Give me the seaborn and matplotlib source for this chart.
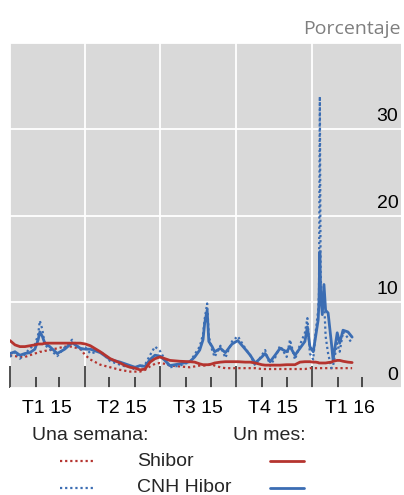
import pandas as pd
import numpy as np
import matplotlib
matplotlib.use("Agg")
import matplotlib.pyplot as plt
import matplotlib.dates as mdates
import matplotlib.transforms as mtransforms
from matplotlib.lines import Line2D
import seaborn as sns

#---------- data ----------
dates = [
    "2015-01-01", "2015-01-07", "2015-01-13", "2015-01-19", "2015-01-25", "2015-01-31",
    "2015-02-04", "2015-02-06", "2015-02-09", "2015-02-12", "2015-02-18", "2015-02-27",
    "2015-03-08", "2015-03-17", "2015-03-27", "2015-04-02", "2015-04-08", "2015-04-20",
    "2015-05-02", "2015-05-14", "2015-05-20", "2015-05-26", "2015-06-01", "2015-06-07",
    "2015-06-13", "2015-06-19", "2015-06-25", "2015-07-01", "2015-07-07", "2015-07-13",
    "2015-07-25", "2015-08-06", "2015-08-12", "2015-08-18", "2015-08-22", "2015-08-24",
    "2015-08-27", "2015-08-29", "2015-09-02", "2015-09-05", "2015-09-12", "2015-09-18",
    "2015-09-26", "2015-10-03", "2015-10-12", "2015-10-18", "2015-10-24", "2015-11-01",
    "2015-11-05", "2015-11-11", "2015-11-17", "2015-11-23", "2015-12-01", "2015-12-05",
    "2015-12-11", "2015-12-17", "2015-12-23", "2015-12-26", "2015-12-29", "2016-01-02",
    "2016-01-05", "2016-01-08", "2016-01-09", "2016-01-10", "2016-01-11", "2016-01-13",
    "2016-01-15", "2016-01-17", "2016-01-20", "2016-01-24", "2016-01-26", "2016-01-31",
    "2016-02-03", "2016-02-07", "2016-02-13", "2016-02-18",
]
shibor_1w = [
    3.8, 3.7, 3.6, 3.6, 3.8, 4.0,
    4.1, 4.2, 4.2, 4.3, 4.4, 4.6,
    4.8, 4.8, 4.5, 3.8, 3.3, 2.7,
    2.4, 2.1, 2.0, 1.9, 1.9, 1.9,
    2.1, 2.5, 2.8, 2.9, 2.8, 2.6,
    2.5, 2.4, 2.5, 2.6, 2.6, 2.6,
    2.7, 2.7, 2.7, 2.6, 2.4, 2.3,
    2.3, 2.3, 2.3, 2.3, 2.3, 2.2,
    2.2, 2.2, 2.2, 2.2, 2.2, 2.2,
    2.2, 2.2, 2.2, 2.25, 2.3, 2.3,
    2.3, 2.3, 2.3, 2.3, 2.3, 2.3,
    2.3, 2.3, 2.3, 2.3, 2.3, 2.3,
    2.3, 2.3, 2.3, 2.3,
]
shibor_1m = [
    5.5, 5.0, 4.8, 4.8, 4.9, 5.0,
    5.1, 5.1, 5.1, 5.2, 5.2, 5.2,
    5.2, 5.2, 5.2, 5.1, 4.9, 4.2,
    3.4, 2.9, 2.6, 2.4, 2.3, 2.1,
    2.2, 3.0, 3.4, 3.6, 3.4, 3.2,
    3.1, 3.05, 3.0, 2.8, 2.7, 2.7,
    2.7, 2.7, 2.8, 2.9, 3.0, 3.05,
    3.05, 3.05, 3.0, 3.0, 2.9, 2.7,
    2.65, 2.65, 2.65, 2.65, 2.7, 2.7,
    2.7, 3.0, 3.05, 3.05, 3.05, 3.0,
    3.0, 2.95, 2.9, 2.9, 2.9, 2.9,
    2.9, 2.9, 2.95, 3.0, 3.1, 3.2,
    3.2, 3.1, 3.0, 2.95,
]
hibor_1w = [
    3.6, 4.2, 3.4, 3.9, 4.6, 5.0,
    6.2, 7.8, 6.8, 5.0, 4.5, 3.7,
    4.7, 5.6, 4.4, 4.7, 4.0, 4.3,
    3.1, 2.7, 2.5, 2.5, 2.1, 2.4,
    2.7, 3.8, 4.8, 4.3, 3.3, 2.4,
    2.6, 3.0, 3.9, 4.8, 6.2, 8.0,
    9.8, 6.0, 4.4, 3.6, 4.9, 3.5,
    5.4, 6.0, 4.6, 3.8, 2.6, 3.8,
    4.4, 2.6, 3.5, 4.9, 3.6, 5.6,
    3.3, 5.0, 6.4, 8.1, 4.0, 3.3,
    6.5, 9.0, 11.0, 33.8, 13.0, 9.0,
    10.5, 6.0, 4.0, 2.3, 2.6, 5.2,
    4.2, 6.5, 5.8, 5.2,
]
hibor_1m = [
    4.0, 4.2, 3.8, 4.0, 4.1, 4.5,
    5.6, 6.5, 6.0, 5.2, 4.8, 4.0,
    4.5, 5.25, 4.6, 4.5, 4.5, 4.1,
    3.3, 3.0, 2.8, 2.6, 2.4, 2.6,
    2.5, 3.3, 3.8, 3.7, 3.2, 2.6,
    2.8, 3.05, 3.6, 4.4, 5.6, 7.5,
    9.0, 5.4, 4.8, 4.2, 4.6, 4.1,
    5.1, 5.5, 4.5, 3.8, 2.9, 3.6,
    4.0, 3.05, 3.8, 4.6, 4.2, 4.8,
    3.8, 4.6, 5.4, 7.1, 4.8, 4.2,
    6.0, 7.9, 10.0, 15.8, 11.0, 8.5,
    12.0, 9.0, 8.7, 5.2, 3.25, 6.4,
    5.2, 6.7, 6.5, 5.9,
]

quarter_labels = ["T1 15", "T2 15", "T3 15", "T4 15", "T1 16"]
quarter_mid = ["2015-02-14", "2015-05-16", "2015-08-16", "2015-11-15", "2016-02-15"]
ytick_values = [0, 10, 20, 30]

df = pd.DataFrame({
    "fecha": pd.to_datetime(dates),
    "shibor_1w": shibor_1w,
    "shibor_1m": shibor_1m,
    "hibor_1w": hibor_1w,
    "hibor_1m": hibor_1m,
})

red = "#b5342f"
blue = "#3b6db3"
dots = (0, (1, 1.3))

#---------- style ----------
sns.set_theme(style="white")
plt.rcParams["font.family"] = ["Liberation Sans", "DejaVu Sans"]

W, H = 404, 495
fig = plt.figure(figsize=(W / 100, H / 100), dpi=100)
ax = fig.add_axes([10 / W, 1 - 388 / H, 391 / W, 345 / H])
ax.set_facecolor("#d9d9d9")

#---------- lines ----------
sns.lineplot(data=df, x="fecha", y="shibor_1w", ax=ax, color=red, lw=1.6, linestyle=dots)
sns.lineplot(data=df, x="fecha", y="hibor_1w", ax=ax, color=blue, lw=1.6, linestyle=dots)
sns.lineplot(data=df, x="fecha", y="hibor_1m", ax=ax, color=blue, lw=2.0)
sns.lineplot(data=df, x="fecha", y="shibor_1m", ax=ax, color=red, lw=2.0)

#---------- axes ----------
ax.set_xlim(pd.Timestamp("2015-01-01"), pd.Timestamp("2016-04-17"))
ax.set_ylim(0, 40)
ax.set_xlabel("")
ax.set_ylabel("")
for s in ax.spines.values():
    s.set_visible(False)

quarter_starts = pd.to_datetime(["2015-01-01", "2015-04-01", "2015-07-01", "2015-10-01", "2016-01-01"])
month_starts = pd.date_range("2015-01-01", "2016-03-01", freq="MS")
ax.set_xticks(mdates.date2num(quarter_starts))
ax.set_xticks(mdates.date2num(month_starts), minor=True)
ax.set_yticks([0, 10, 20, 30, 40])
ax.set_axisbelow(True)
ax.grid(True, axis="y", color="white", lw=1.3)
ax.grid(True, axis="x", which="major", color="white", lw=1.3)
ax.grid(False, axis="x", which="minor")

ax.tick_params(axis="x", which="major", bottom=True, direction="in", length=16,
               width=1.1, color="#222222", labelbottom=False)
ax.tick_params(axis="x", which="minor", bottom=True, direction="in", length=8,
               width=1.1, color="#222222", labelbottom=False)
ax.tick_params(axis="y", left=False, labelleft=False)

# y labels inside the plot, right side, sitting on the gridlines
ytrans = mtransforms.offset_copy(
    mtransforms.blended_transform_factory(ax.transAxes, ax.transData), fig=fig, y=4, units="dots")
for v in ytick_values:
    ax.text(0.993, v, str(v), transform=ytrans, ha="right", va="bottom", fontsize=14, color="black")

# quarter labels centred under each quarter
xtrans = mtransforms.blended_transform_factory(ax.transData, ax.transAxes)
for lab, d in zip(quarter_labels, quarter_mid):
    ax.text(mdates.date2num(pd.Timestamp(d)), -0.058, lab, transform=xtrans,
            ha="center", va="center", fontsize=14, color="black")

fig.text(401 / W, 1 - 29 / H, "Porcentaje", ha="right", va="center",
         fontsize=14, color="#7f7f7f", family=["Open Sans", "DejaVu Sans"])

#---------- legend ----------
def px(x, y):
    return x / W, 1 - y / H

fig.text(*px(32, 436), "Una semana:", ha="left", va="center", fontsize=14)
fig.text(*px(233, 436), "Un mes:", ha="left", va="center", fontsize=14)
fig.text(*px(137, 461), "Shibor", ha="left", va="center", fontsize=14)
fig.text(*px(137, 487), "CNH Hibor", ha="left", va="center", fontsize=14)
for yy, c in [(461, red), (488, blue)]:
    x0, y0 = px(60, yy)
    x1, _ = px(94, yy)
    fig.add_artist(Line2D([x0, x1], [y0, y0], transform=fig.transFigure, color=c, lw=1.6, linestyle=dots))
    x0, _ = px(270, yy)
    x1, _ = px(304, yy)
    fig.add_artist(Line2D([x0, x1], [y0, y0], transform=fig.transFigure, color=c, lw=2.0))

fig.savefig("out.png", dpi=100)
